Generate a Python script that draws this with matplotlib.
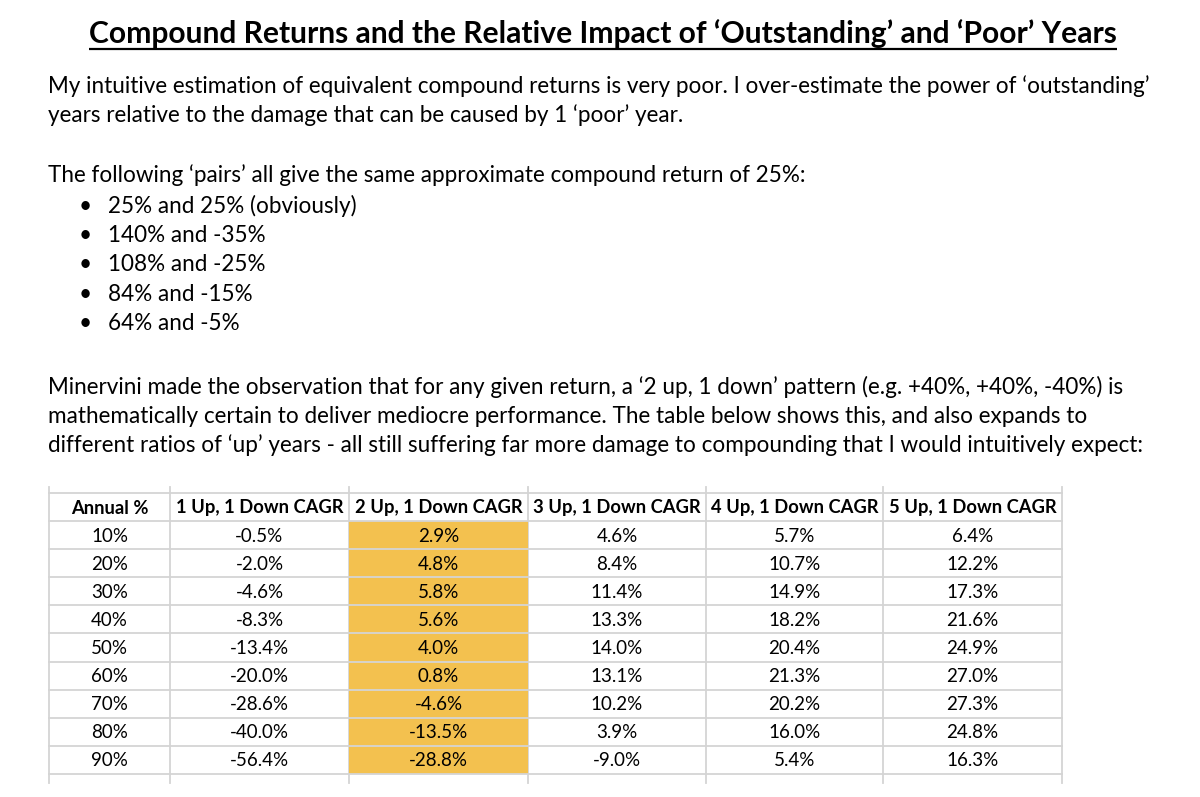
import matplotlib.pyplot as plt
from matplotlib.patches import Rectangle

# text of the page
title = "Compound Returns and the Relative Impact of \u2018Outstanding\u2019 and \u2018Poor\u2019 Years"
intro = ["My intuitive estimation of equivalent compound returns is very poor. I over-estimate the power of \u2018outstanding\u2019",
         "years relative to the damage that can be caused by 1 \u2018poor\u2019 year."]
pairs_intro = "The following \u2018pairs\u2019 all give the same approximate compound return of 25%:"
pairs = ["25% and 25% (obviously)", "140% and -35%", "108% and -25%", "84% and -15%", "64% and -5%"]
minervini = ["Minervini made the observation that for any given return, a \u20182 up, 1 down\u2019 pattern (e.g. +40%, +40%, -40%) is",
             "mathematically certain to deliver mediocre performance. The table below shows this, and also expands to",
             "different ratios of \u2018up\u2019 years - all still suffering far more damage to compounding that I would intuitively expect:"]

# table data
headers = ["Annual %", "1 Up, 1 Down CAGR", "2 Up, 1 Down CAGR", "3 Up, 1 Down CAGR",
           "4 Up, 1 Down CAGR", "5 Up, 1 Down CAGR"]
annual = [10, 20, 30, 40, 50, 60, 70, 80, 90]
up1 = [-0.5, -2.0, -4.6, -8.3, -13.4, -20.0, -28.6, -40.0, -56.4]
up2 = [2.9, 4.8, 5.8, 5.6, 4.0, 0.8, -4.6, -13.5, -28.8]
up3 = [4.6, 8.4, 11.4, 13.3, 14.0, 13.1, 10.2, 3.9, -9.0]
up4 = [5.7, 10.7, 14.9, 18.2, 20.4, 21.3, 20.2, 16.0, 5.4]
up5 = [6.4, 12.2, 17.3, 21.6, 24.9, 27.0, 27.3, 24.8, 16.3]

FONT = "Lato"
W, H = 1200, 797

fig = plt.figure(figsize=(12, 7.97), dpi=100)
ax = fig.add_axes([0, 0, 1, 1])
ax.set_xlim(0, W)
ax.set_ylim(H, 0)
ax.axis("off")
rend = fig.canvas.get_renderer()


def fit_size(s, width, bold=False, fs=20):
    # font size that makes string s about `width` pixels wide
    t = ax.text(0, 0, s, fontsize=fs, family=FONT, fontweight="bold" if bold else "normal")
    w = t.get_window_extent(rend).width
    t.remove()
    return fs * width / w


# title, underlined
tfs = fit_size(title, 1030, bold=True)
t = ax.text(603, 43, title, fontsize=tfs, family=FONT, fontweight="bold", ha="center", va="baseline")
bb = t.get_window_extent(rend)
ax.plot([bb.x0, bb.x1], [48.5, 48.5], color="black", lw=1.6, solid_capstyle="butt")

# body text (baselines)
bfs = fit_size(intro[0], 1104)
for y, line in zip([93, 122], intro):
    ax.text(48, y, line, fontsize=bfs, family=FONT, va="baseline")
ax.text(48, 182, pairs_intro, fontsize=bfs, family=FONT, va="baseline")
for i, p in enumerate(pairs):
    y = 212.5 + 29.4 * i
    ax.text(85, y, "\u2022", fontsize=bfs, family=FONT, va="baseline", ha="center")
    ax.text(108, y, p, fontsize=bfs, family=FONT, va="baseline")
for i, line in enumerate(minervini):
    ax.text(48, 394 + 29 * i, line, fontsize=bfs, family=FONT, va="baseline")

# table
col_x = [49, 170, 349, 528, 706, 883, 1062]
top, head_bot, bottom = 493, 521, 774
nrows = len(annual)
rh = (bottom - head_bot) / nrows
row_y = [head_bot + rh * i for i in range(nrows + 1)]
grid = "#d4d4d4"

ax.add_patch(Rectangle((col_x[2], head_bot), col_x[3] - col_x[2], bottom - head_bot,
                       facecolor="#f3c14f", edgecolor="none", zorder=1))
for y in [top] + row_y:
    ax.plot([col_x[0], col_x[-1]], [y, y], color=grid, lw=1.3, zorder=2)
for x in col_x:
    ax.plot([x, x], [487, 783], color=grid, lw=1.3, zorder=0)

cfs = fit_size(headers[1], 168, bold=True)
for j, h in enumerate(headers):
    ax.text((col_x[j] + col_x[j + 1]) / 2, (top + head_bot) / 2 + 1, h, fontsize=cfs,
            family=FONT, fontweight="bold", ha="center", va="center", zorder=3)

cols = [[f"{a}%" for a in annual]] + [[f"{v:.1f}%" for v in c] for c in (up1, up2, up3, up4, up5)]
for j, c in enumerate(cols):
    xc = (col_x[j] + col_x[j + 1]) / 2
    for i, s in enumerate(c):
        ax.text(xc, row_y[i] + rh / 2 + 1, s, fontsize=cfs * 1.02, family=FONT,
                ha="center", va="center", zorder=3)

fig.savefig("out.png", dpi=100, facecolor="white")
